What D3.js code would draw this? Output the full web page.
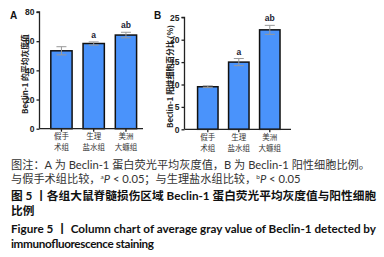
<!DOCTYPE html>
<html><head><meta charset="utf-8">
<script src="https://cdn.jsdelivr.net/npm/d3@7"></script>
<style>body{margin:0;background:#fff}svg{display:block}</style>
</head><body><svg id="c" width="384" height="257"></svg>
<script>
const categories = [["假手","术组"],["生理","盐水组"],["美洲","大蠊组"]];
const valuesA = [53.4, 58.4, 64.2];
const errA = [2.8, 1.1, 1.9];
const sigA = ["", "a", "ab"];
const ticksA = [0, 20, 40, 60, 80];
const valuesB = [9.5, 15.0, 22.2];
const errB = [0.2, 0.8, 1.0];
const sigB = ["", "a", "ab"];
const ticksB = [0, 5, 10, 15, 20, 25];
const captions = [
  {t:"图注：A 为 Beclin-1 蛋白荧光平均灰度值，B 为 Beclin-1 阳性细胞比例。", y:169, bold:false, fs:11.2},
  {t:null, y:183, bold:false, fs:11.2},
  {t:"图 5 丨各组大鼠脊髓损伤区域 Beclin-1 蛋白荧光平均灰度值与阳性细胞", y:200, bold:true, fs:11.7},
  {t:"比例", y:215, bold:true, fs:11.7},
  {t:"Figure 5  丨  Column chart of average gray value of Beclin-1 detected by", y:233, bold:true, fs:11.7, len:365},
  {t:"immunofluorescence staining", y:248, bold:true, fs:11.7, len:143}
];

const svg = d3.select("#c");
const barColor = "#4a93fb";
const fontAx = "Liberation Sans, Arial, sans-serif";
const fontCJK = "'Noto Sans CJK SC', sans-serif";

function panel(opt){
  const g = svg.append("g");
  const y = d3.scaleLinear().domain([0, opt.max]).range([opt.y0, opt.y1]);
  const x = d3.scaleBand().domain(d3.range(3)).range(opt.xr).paddingInner(0.34).paddingOuter(0.18);
  const ya = g.append("g").attr("transform",`translate(${opt.ax},0)`)
    .call(d3.axisLeft(y).tickValues(opt.ticks).tickSize(3).tickPadding(2));
  ya.select(".domain").attr("stroke","#222").attr("stroke-width",1.3).attr("d",`M-3,${opt.y1}H0V${opt.y0}`);
  ya.selectAll(".tick line").attr("stroke","#222").attr("stroke-width",1.3);
  ya.selectAll(".tick text").attr("font-family",fontAx).attr("font-weight","bold").attr("font-size",8.5).attr("fill","#222");
  g.selectAll("rect.bar").data(opt.vals).join("rect").attr("class","bar")
    .attr("x",(d,i)=>x(i)).attr("width",x.bandwidth())
    .attr("y",d=>y(d)).attr("height",d=>opt.y0-y(d))
    .attr("fill",barColor).attr("stroke","#111").attr("stroke-width",1.5);
  const cx = i => x(i)+x.bandwidth()/2;
  g.selectAll("path.err").data(opt.vals).join("path").attr("class","err")
    .attr("d",(d,i)=>`M${cx(i)},${y(d-opt.err[i])}V${y(d+opt.err[i])}M${cx(i)-5},${y(d+opt.err[i])}H${cx(i)+5}M${cx(i)-5},${y(d-opt.err[i])}H${cx(i)+5}`)
    .attr("stroke","#999").attr("stroke-width",1).attr("fill","none");
  g.selectAll("text.sig").data(opt.vals).join("text").attr("class","sig")
    .attr("x",(d,i)=>cx(i)).attr("y",(d,i)=>y(d+opt.err[i])-4)
    .attr("text-anchor","middle").attr("font-family",fontAx).attr("font-weight","bold").attr("font-size",8.5).attr("fill","#223")
    .text((d,i)=>opt.sig[i]);
  g.append("line").attr("x1",opt.ax).attr("x2",opt.xend).attr("y1",opt.y0).attr("y2",opt.y0).attr("stroke","#222").attr("stroke-width",1.3);
  g.selectAll("line.xt").data(opt.vals).join("line").attr("class","xt")
    .attr("x1",(d,i)=>cx(i)).attr("x2",(d,i)=>cx(i)).attr("y1",opt.y0).attr("y2",opt.y0+3).attr("stroke","#222").attr("stroke-width",1.3);
  categories.forEach((d,i)=>{
    d.forEach((s,k)=>{
      g.append("text").attr("x",cx(i)).attr("y",opt.y0+10.5+k*11)
        .attr("text-anchor","middle").attr("font-family",fontCJK).attr("font-size",7.5).attr("fill","#333").text(s);
    });
  });
  g.append("text").attr("transform",`translate(${opt.lx},${opt.lc}) rotate(-90)`)
    .attr("text-anchor","middle").attr("font-family",fontCJK).attr("font-weight","bold").attr("font-size",opt.lfs).attr("fill","#222")
    .text(opt.label);
  g.append("text").attr("x",opt.px).attr("y",19).attr("font-family",fontAx).attr("font-weight","bold").attr("font-size",10).attr("fill","#111").text(opt.letter);
}

panel({max:80, y0:128.7, y1:12, xr:[45,142.4], ax:39.5, xend:143, ticks:ticksA, vals:valuesA, err:errA, sig:sigA,
  label:"Beclin-1 的平均灰度值", lx:27.5, lc:74, lfs:7.8, letter:"A", px:10});
panel({max:25, y0:129.3, y1:17.3, xr:[192,285.6], ax:184.5, xend:291, ticks:ticksB, vals:valuesB, err:errB, sig:sigB,
  label:"Beclin-1 阳性细胞百分比 (%)", lx:172.5, lc:76.5, lfs:7.8, letter:"B", px:154});

captions.forEach((c,i)=>{
  const t = svg.append("text").attr("x",11).attr("y",c.y)
    .attr("font-family","Lato, 'Noto Sans CJK SC', sans-serif").attr("font-size",c.fs)
    .attr("font-weight",c.bold?"bold":"normal").attr("fill",c.bold?"#111":"#333");
  if(c.len) t.attr("textLength",c.len).attr("lengthAdjust","spacing");
  if(c.t) t.text(c.t);
  else {
    t.append("tspan").text("与假手术组比较，");
    t.append("tspan").attr("font-size",6.5).attr("dy",-4).text("a");
    t.append("tspan").attr("font-style","italic").attr("dy",4).text("P");
    t.append("tspan").text(" < 0.05；与生理盐水组比较，");
    t.append("tspan").attr("font-size",6.5).attr("dy",-4).text("b");
    t.append("tspan").attr("font-style","italic").attr("dy",4).text("P");
    t.append("tspan").text(" < 0.05");
  }
});
</script></body></html>
